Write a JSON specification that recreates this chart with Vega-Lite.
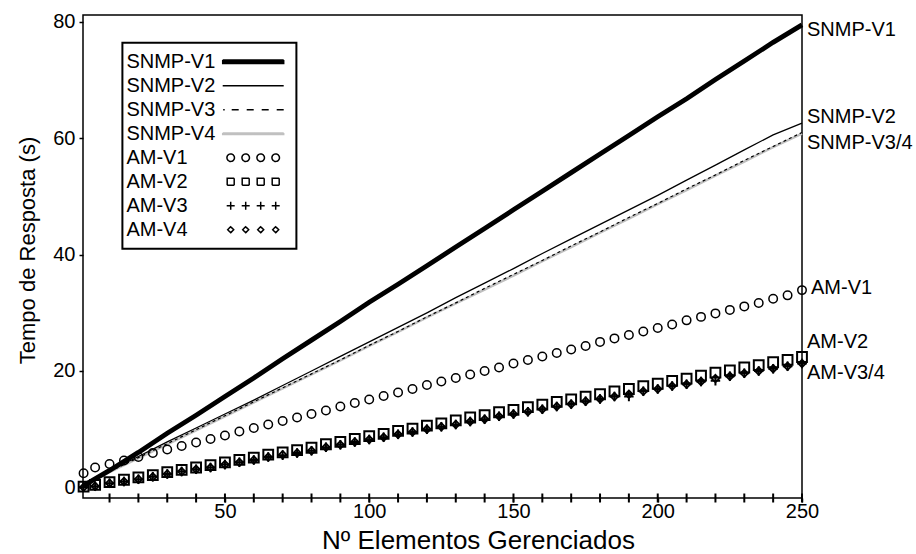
{
  "$schema": "https://vega.github.io/schema/vega-lite/v6.json",
  "width": 719,
  "height": 483,
  "autosize": "none",
  "padding": {"left": 83, "top": 15, "right": 114, "bottom": 56},
  "background": "white",
  "config": {
    "font": "Liberation Sans",
    "view": {"stroke": "black", "strokeWidth": 1.5}
  },
  "resolve": {"axis": {"y": "independent"}},
  "datasets": {
    "snmp": [
      {"x": 1, "V1": 0.3, "V2": 0.3, "V3": 0.3, "V4": 0.3},
      {"x": 10, "V1": 2.9, "V2": 2.8, "V3": 2.7, "V4": 2.6},
      {"x": 20, "V1": 6.0, "V2": 5.3, "V3": 5.1, "V4": 5.0},
      {"x": 30, "V1": 9.3, "V2": 7.8, "V3": 7.5, "V4": 7.4},
      {"x": 40, "V1": 12.4, "V2": 10.2, "V3": 9.9, "V4": 9.8},
      {"x": 50, "V1": 15.6, "V2": 12.6, "V3": 12.3, "V4": 12.2},
      {"x": 60, "V1": 18.8, "V2": 15.0, "V3": 14.7, "V4": 14.6},
      {"x": 70, "V1": 22.1, "V2": 17.5, "V3": 17.1, "V4": 17.0},
      {"x": 80, "V1": 25.3, "V2": 20.0, "V3": 19.5, "V4": 19.4},
      {"x": 90, "V1": 28.5, "V2": 22.5, "V3": 21.9, "V4": 21.8},
      {"x": 100, "V1": 31.8, "V2": 25.0, "V3": 24.4, "V4": 24.3},
      {"x": 110, "V1": 34.9, "V2": 27.5, "V3": 26.8, "V4": 26.7},
      {"x": 120, "V1": 38.1, "V2": 30.0, "V3": 29.3, "V4": 29.2},
      {"x": 130, "V1": 41.3, "V2": 32.6, "V3": 31.7, "V4": 31.6},
      {"x": 140, "V1": 44.5, "V2": 35.1, "V3": 34.2, "V4": 34.0},
      {"x": 150, "V1": 47.7, "V2": 37.6, "V3": 36.6, "V4": 36.4},
      {"x": 160, "V1": 50.9, "V2": 40.2, "V3": 39.0, "V4": 38.9},
      {"x": 170, "V1": 54.1, "V2": 42.7, "V3": 41.5, "V4": 41.3},
      {"x": 180, "V1": 57.3, "V2": 45.2, "V3": 43.9, "V4": 43.8},
      {"x": 190, "V1": 60.5, "V2": 47.7, "V3": 46.4, "V4": 46.2},
      {"x": 200, "V1": 63.7, "V2": 50.2, "V3": 48.8, "V4": 48.7},
      {"x": 210, "V1": 66.8, "V2": 52.8, "V3": 51.3, "V4": 51.1},
      {"x": 220, "V1": 70.1, "V2": 55.4, "V3": 53.7, "V4": 53.6},
      {"x": 230, "V1": 73.3, "V2": 58.0, "V3": 56.2, "V4": 56.0},
      {"x": 240, "V1": 76.5, "V2": 60.6, "V3": 58.6, "V4": 58.5},
      {"x": 250, "V1": 79.5, "V2": 62.6, "V3": 61.0, "V4": 60.8}
    ],
    "am": [
      {"x": 1, "V1": 2.4, "V2": 0.1, "V3": 0.0, "V4": 0.0},
      {"x": 5, "V1": 3.4, "V2": 0.4, "V3": 0.2, "V4": 0.2},
      {"x": 10, "V1": 4.0, "V2": 0.9, "V3": 0.7, "V4": 0.7},
      {"x": 15, "V1": 4.6, "V2": 1.3, "V3": 1.0, "V4": 1.0},
      {"x": 20, "V1": 5.2, "V2": 1.7, "V3": 1.4, "V4": 1.4},
      {"x": 25, "V1": 5.9, "V2": 2.1, "V3": 1.8, "V4": 1.8},
      {"x": 30, "V1": 6.5, "V2": 2.6, "V3": 2.3, "V4": 2.3},
      {"x": 35, "V1": 7.1, "V2": 3.0, "V3": 2.7, "V4": 2.7},
      {"x": 40, "V1": 7.7, "V2": 3.4, "V3": 3.1, "V4": 3.1},
      {"x": 45, "V1": 8.3, "V2": 3.8, "V3": 3.4, "V4": 3.4},
      {"x": 50, "V1": 8.9, "V2": 4.3, "V3": 3.9, "V4": 3.9},
      {"x": 55, "V1": 9.6, "V2": 4.7, "V3": 4.3, "V4": 4.3},
      {"x": 60, "V1": 10.2, "V2": 5.1, "V3": 4.7, "V4": 4.7},
      {"x": 65, "V1": 10.8, "V2": 5.6, "V3": 5.2, "V4": 5.2},
      {"x": 70, "V1": 11.4, "V2": 6.0, "V3": 5.5, "V4": 5.6},
      {"x": 75, "V1": 12.0, "V2": 6.4, "V3": 5.9, "V4": 5.9},
      {"x": 80, "V1": 12.6, "V2": 6.8, "V3": 6.3, "V4": 6.3},
      {"x": 85, "V1": 13.2, "V2": 7.4, "V3": 6.9, "V4": 6.9},
      {"x": 90, "V1": 13.9, "V2": 7.8, "V3": 7.3, "V4": 7.3},
      {"x": 95, "V1": 14.5, "V2": 8.3, "V3": 7.8, "V4": 7.8},
      {"x": 100, "V1": 15.1, "V2": 8.8, "V3": 8.2, "V4": 8.2},
      {"x": 105, "V1": 15.7, "V2": 9.2, "V3": 8.6, "V4": 8.6},
      {"x": 110, "V1": 16.3, "V2": 9.7, "V3": 9.1, "V4": 9.1},
      {"x": 115, "V1": 16.9, "V2": 10.1, "V3": 9.5, "V4": 9.5},
      {"x": 120, "V1": 17.6, "V2": 10.6, "V3": 10.0, "V4": 10.0},
      {"x": 125, "V1": 18.2, "V2": 11.0, "V3": 10.4, "V4": 10.4},
      {"x": 130, "V1": 18.8, "V2": 11.5, "V3": 10.8, "V4": 10.8},
      {"x": 135, "V1": 19.4, "V2": 12.0, "V3": 11.3, "V4": 11.3},
      {"x": 140, "V1": 20.0, "V2": 12.4, "V3": 11.7, "V4": 11.7},
      {"x": 145, "V1": 20.6, "V2": 12.9, "V3": 12.2, "V4": 12.2},
      {"x": 150, "V1": 21.3, "V2": 13.3, "V3": 12.6, "V4": 12.6},
      {"x": 155, "V1": 21.9, "V2": 13.8, "V3": 13.0, "V4": 13.0},
      {"x": 160, "V1": 22.5, "V2": 14.2, "V3": 13.4, "V4": 13.4},
      {"x": 165, "V1": 23.1, "V2": 14.7, "V3": 13.9, "V4": 13.9},
      {"x": 170, "V1": 23.7, "V2": 15.1, "V3": 14.3, "V4": 14.3},
      {"x": 175, "V1": 24.3, "V2": 15.6, "V3": 14.8, "V4": 14.8},
      {"x": 180, "V1": 25.0, "V2": 16.0, "V3": 15.2, "V4": 15.2},
      {"x": 185, "V1": 25.6, "V2": 16.5, "V3": 15.6, "V4": 15.6},
      {"x": 190, "V1": 26.2, "V2": 16.9, "V3": 15.6, "V4": 16.0},
      {"x": 195, "V1": 26.8, "V2": 17.4, "V3": 16.5, "V4": 16.5},
      {"x": 200, "V1": 27.4, "V2": 17.8, "V3": 16.9, "V4": 16.9},
      {"x": 205, "V1": 28.0, "V2": 18.3, "V3": 17.4, "V4": 17.4},
      {"x": 210, "V1": 28.7, "V2": 18.7, "V3": 17.7, "V4": 17.7},
      {"x": 215, "V1": 29.3, "V2": 19.2, "V3": 18.2, "V4": 18.2},
      {"x": 220, "V1": 29.9, "V2": 19.7, "V3": 18.3, "V4": 18.7},
      {"x": 225, "V1": 30.5, "V2": 20.1, "V3": 19.1, "V4": 19.1},
      {"x": 230, "V1": 31.1, "V2": 20.6, "V3": 19.6, "V4": 19.6},
      {"x": 235, "V1": 31.7, "V2": 21.0, "V3": 20.0, "V4": 20.0},
      {"x": 240, "V1": 32.4, "V2": 21.5, "V3": 20.4, "V4": 20.4},
      {"x": 245, "V1": 33.0, "V2": 21.9, "V3": 20.8, "V4": 20.8},
      {"x": 250, "V1": 33.9, "V2": 22.4, "V3": 21.3, "V4": 21.3}
    ],
    "ends": [
      {"label": "SNMP-V1", "x": 250, "y": 78.6},
      {"label": "SNMP-V2", "x": 250, "y": 63.6},
      {"label": "SNMP-V3/4", "x": 250, "y": 59.2},
      {"label": "AM-V1", "x": 250, "y": 34.3},
      {"label": "AM-V2", "x": 250, "y": 25.0},
      {"label": "AM-V3/4", "x": 250, "y": 19.7}
    ],
    "xticks": [
      {"x": 10}, {"x": 20}, {"x": 30}, {"x": 40}, {"x": 50}, {"x": 60}, {"x": 70}, {"x": 80}, {"x": 90}, {"x": 100},
      {"x": 110}, {"x": 120}, {"x": 130}, {"x": 140}, {"x": 150}, {"x": 160}, {"x": 170}, {"x": 180}, {"x": 190}, {"x": 200},
      {"x": 210}, {"x": 220}, {"x": 230}, {"x": 240}, {"x": 250}
    ],
    "yticks": [
      {"t": 0}, {"t": 4}, {"t": 8}, {"t": 12}, {"t": 16}, {"t": 20}, {"t": 24}, {"t": 28}, {"t": 32}, {"t": 36}, {"t": 40},
      {"t": 44}, {"t": 48}, {"t": 52}, {"t": 56}, {"t": 60}, {"t": 64}, {"t": 68}, {"t": 72}, {"t": 76}, {"t": 80}
    ]
  },
  "encoding": {
    "x": {
      "field": "x", "type": "quantitative",
      "scale": {"domain": [0.8, 250], "nice": false, "zero": false},
      "axis": {
        "values": [50, 100, 150, 200, 250],
        "domain": false, "ticks": true, "tickSize": 4, "tickWidth": 1.5, "tickColor": "#000000", "grid": false,
        "labelColor": "#000000", "labelFontSize": 20, "labelPadding": -1,
        "labelOverlap": false, "labelFlush": false,
        "title": "Nº Elementos Gerenciados",
        "titleColor": "#000000", "titleFontWeight": "normal",
        "titleFontSize": 26, "titleX": 395, "titleY": 50,
        "titleAlign": "center", "titleBaseline": "alphabetic"
      }
    }
  },
  "layer": [
    {
      "data": {"name": "snmp"},
      "mark": {"type": "line", "strokeWidth": 2.5},
      "encoding": {
        "y": {
          "field": "V4", "type": "quantitative",
          "scale": {"domain": [-1.84, 81.2], "nice": false, "zero": false},
          "axis": {
            "orient": "left",
            "values": [0, 20, 40, 60, 80],
            "domain": false, "grid": false, "ticks": true, "tickSize": 4, "tickWidth": 1.5, "tickColor": "#000000",
            "labelColor": "#000000", "labelFontSize": 20, "labelPadding": 4,
            "labelOverlap": false,
            "title": "Tempo de Resposta (s)",
            "titleColor": "#000000", "titleFontWeight": "normal",
            "titleFontSize": 22, "titleAngle": 270, "titleX": -56, "titleY": 235,
            "titleAlign": "center", "titleBaseline": "middle"
          }
        },
        "color": {
          "datum": "SNMP-V4",
          "scale": {
            "domain": ["SNMP-V1", "SNMP-V2", "SNMP-V3", "SNMP-V4", "AM-V1", "AM-V2", "AM-V3", "AM-V4"],
            "range": ["#000000", "#000000", "#000000", "#c0c0c0", "#000000", "#000000", "#000000", "#000000"]
          },
          "legend": {
            "orient": "none", "legendX": 39.4, "legendY": 27.7,
            "title": null, "padding": 9, "rowPadding": 4,
            "fillColor": "white", "strokeColor": "black",
            "labelFont": "Liberation Sans", "labelFontSize": 20, "labelColor": "black",
            "labelAlign": "left", "labelBaseline": "middle",
            "symbolSize": 100, "symbolStrokeWidth": 1.5,
            "symbolOffset": 111.8, "labelOffset": -136.8,
            "encode": {
              "legend": {"update": {"strokeWidth": {"value": 2}}},
              "symbols": {
                "update": {
                  "size": {"value": 100},
                  "strokeWidth": {"value": 1.5},
                  "opacity": {"value": 1},
                  "strokeDash": {"value": [1, 0]},
                  "shape": {"signal": "datum.value === 'SNMP-V1' ? 'M-6.1,-0.35H6.1V0.35H-6.1Z' : datum.value === 'SNMP-V2' ? 'M-6.1,0H6.1' : datum.value === 'SNMP-V3' ? 'M-6,0H-5.7M-4.3,0H-2.9M-1.3,0H0.1M1.7,0H3.1M4.7,0H6.1' : datum.value === 'SNMP-V4' ? 'M-6.1,-0.15H6.1V0.15H-6.1Z' : datum.value === 'AM-V1' ? 'M-3.75,0A0.75,0.75,0,1,1,-5.25,0A0.75,0.75,0,1,1,-3.75,0M-0.75,0A0.75,0.75,0,1,1,-2.25,0A0.75,0.75,0,1,1,-0.75,0M2.25,0A0.75,0.75,0,1,1,0.75,0A0.75,0.75,0,1,1,2.25,0M5.25,0A0.75,0.75,0,1,1,3.75,0A0.75,0.75,0,1,1,5.25,0' : datum.value === 'AM-V2' ? 'M-5.2,-0.7h1.4v1.4h-1.4zM-2.2,-0.7h1.4v1.4h-1.4zM0.8,-0.7h1.4v1.4h-1.4zM3.8,-0.7h1.4v1.4h-1.4z' : datum.value === 'AM-V3' ? 'M-5.3,0h1.6M-4.5,-0.8v1.6M-2.3,0h1.6M-1.5,-0.8v1.6M0.7,0h1.6M1.5,-0.8v1.6M3.7,0h1.6M4.5,-0.8v1.6' : 'M-4.5,-0.6l0.6,0.6l-0.6,0.6l-0.6,-0.6zM-1.5,-0.6l0.6,0.6l-0.6,0.6l-0.6,-0.6zM1.5,-0.6l0.6,0.6l-0.6,0.6l-0.6,-0.6zM4.5,-0.6l0.6,0.6l-0.6,0.6l-0.6,-0.6z'"},
                  "fill": {"signal": "datum.value === 'SNMP-V1' ? '#000000' : datum.value === 'SNMP-V4' ? '#c8c8c8' : 'transparent'"},
                  "stroke": {"signal": "datum.value === 'SNMP-V4' ? '#c8c8c8' : '#000000'"}
                }
              }
            }
          }
        }
      }
    },
    {
      "data": {"name": "snmp"},
      "mark": {"type": "line", "strokeWidth": 1.2, "strokeDash": [3, 3]},
      "encoding": {
        "y": {"field": "V3", "type": "quantitative", "axis": null},
        "color": {"datum": "SNMP-V3"}
      }
    },
    {
      "data": {"name": "snmp"},
      "mark": {"type": "line", "strokeWidth": 1.3},
      "encoding": {
        "y": {"field": "V2", "type": "quantitative", "axis": null},
        "color": {"datum": "SNMP-V2"}
      }
    },
    {
      "data": {"name": "snmp"},
      "mark": {"type": "line", "strokeWidth": 4.8},
      "encoding": {
        "y": {"field": "V1", "type": "quantitative", "axis": null},
        "color": {"datum": "SNMP-V1"}
      }
    },
    {
      "data": {"name": "am"},
      "mark": {"type": "point", "shape": "circle", "size": 72, "filled": false, "strokeWidth": 1.5, "opacity": 1},
      "encoding": {
        "y": {"field": "V1", "type": "quantitative", "axis": null},
        "color": {"datum": "AM-V1"}
      }
    },
    {
      "data": {"name": "am"},
      "mark": {"type": "point", "shape": "M0,-1L1,0L0,1L-1,0Z", "size": 56, "filled": false, "strokeWidth": 1.8, "opacity": 1},
      "encoding": {
        "y": {"field": "V4", "type": "quantitative", "axis": null},
        "color": {"datum": "AM-V4"}
      }
    },
    {
      "data": {"name": "am"},
      "mark": {"type": "point", "shape": "M-1,0H1M0,-1V1", "size": 90, "filled": false, "strokeWidth": 2, "opacity": 1},
      "encoding": {
        "y": {"field": "V3", "type": "quantitative", "axis": null},
        "color": {"datum": "AM-V3"}
      }
    },
    {
      "data": {"name": "am"},
      "mark": {"type": "point", "shape": "square", "size": 96, "filled": false, "strokeWidth": 2, "opacity": 1},
      "encoding": {
        "y": {"field": "V2", "type": "quantitative", "axis": null},
        "color": {"datum": "AM-V2"}
      }
    },
    {
      "data": {"name": "ends"},
      "transform": [{"filter": "datum.label !== 'AM-V1'"}],
      "mark": {"type": "text", "align": "left", "baseline": "middle", "dx": 5, "fontSize": 20, "color": "black"},
      "encoding": {
        "y": {"field": "y", "type": "quantitative", "axis": null},
        "text": {"field": "label"}
      }
    },
    {
      "data": {"name": "ends"},
      "transform": [{"filter": "datum.label === 'AM-V1'"}],
      "mark": {"type": "text", "align": "left", "baseline": "middle", "dx": 9, "fontSize": 20, "color": "black"},
      "encoding": {
        "y": {"field": "y", "type": "quantitative", "axis": null},
        "text": {"field": "label"}
      }
    },
    {
      "data": {"name": "xticks"},
      "mark": {"type": "tick", "orient": "vertical", "size": 9, "thickness": 2, "color": "#000000", "opacity": 1},
      "encoding": {
        "y": {"datum": -1.84, "type": "quantitative", "axis": null}
      }
    },
    {
      "data": {"name": "yticks"},
      "mark": {"type": "tick", "orient": "horizontal", "size": 9, "thickness": 2, "color": "#000000", "opacity": 1},
      "encoding": {
        "x": {"datum": 0.8, "type": "quantitative"},
        "y": {"field": "t", "type": "quantitative", "axis": null}
      }
    }
  ]
}
